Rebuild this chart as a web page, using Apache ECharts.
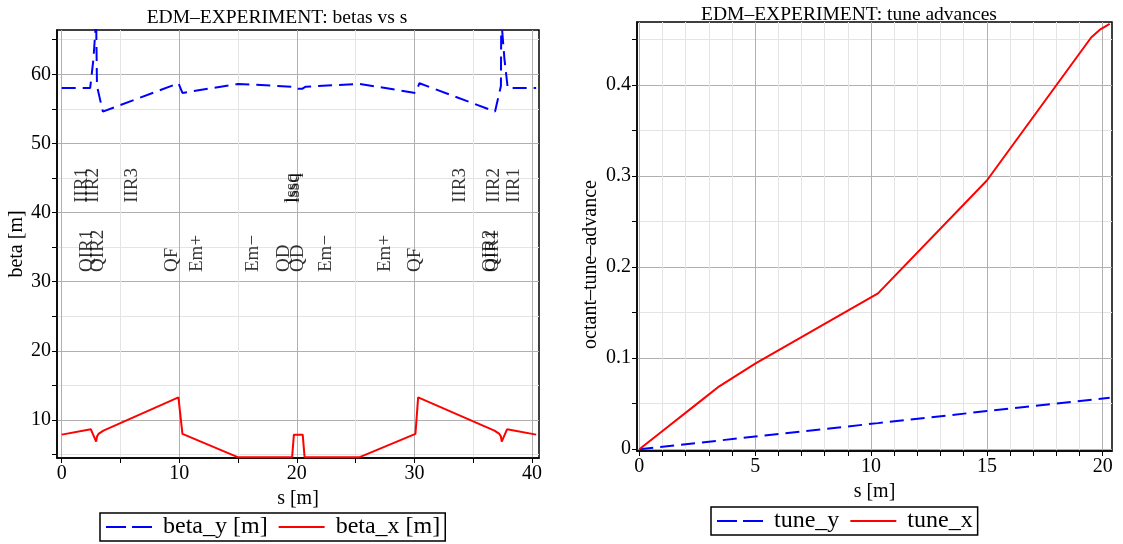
<!DOCTYPE html>
<html><head><meta charset="utf-8">
<script src="https://cdn.jsdelivr.net/npm/echarts@6/dist/echarts.min.js"></script>
<style>html,body{margin:0;padding:0;background:#fff}#c{width:1123px;height:544px}</style>
</head><body><div id="c"></div>
<script>
// ---- data: left panel (betas vs s) ----
const betaYS = [0, 2.42, 2.7, 2.93, 2.97, 3.0, 3.5, 9.93, 10.27, 15.0, 19.6, 19.9, 20.45, 20.75, 25.36, 30.09, 30.43, 36.86, 37.36, 37.39, 37.43, 37.66, 37.94, 40.36];
const betaYV = [58.0, 58.0, 62.2, 68, 68, 58.3, 54.6, 58.7, 57.3, 58.6, 58.2, 57.9, 57.9, 58.2, 58.6, 57.3, 58.7, 54.6, 58.3, 68, 68, 62.2, 58.0, 58.0];
const betaXS = [0, 2.48, 2.93, 3.0, 3.13, 3.55, 9.93, 10.27, 14.97, 19.6, 19.75, 20.5, 20.66, 25.35, 30.09, 30.32, 36.81, 37.23, 37.36, 37.43, 37.88, 40.36];
const betaXV = [7.88, 8.65, 6.88, 7.6, 7.98, 8.46, 13.27, 7.98, 4.62, 4.62, 7.88, 7.88, 4.62, 4.62, 7.98, 13.27, 8.46, 7.98, 7.6, 6.88, 8.65, 7.88];
const elemTopNames = ['IIR1', 'IIR2', 'IIR3', 'lssq', 'lssq', 'IIR3', 'IIR2', 'IIR1'];
const elemTopS = [1.77, 2.70, 6.02, 19.55, 19.75, 33.92, 36.75, 38.45];
const elemBotNames = ['QIR1', 'QIR2', 'QF', 'Em+', 'Em\u2212', 'QD', 'QD', 'Em\u2212', 'Em+', 'QF', 'QIR2', 'QIR1'];
const elemBotS = [2.14, 3.13, 9.39, 11.51, 16.27, 18.9, 20.09, 22.45, 27.49, 30.04, 36.4, 36.7];
const leftXTicks = [0, 5, 10, 15, 20, 25, 30, 35, 40];
const leftXLabels = [0, 10, 20, 30, 40];
const leftYTicks = [5, 10, 15, 20, 25, 30, 35, 40, 45, 50, 55, 60, 65];
const leftYLabels = [10, 20, 30, 40, 50, 60];

// ---- data: right panel (tune advances) ----
const tuneXS = [0, 1.0, 2.5, 3.45, 5.0, 10.3, 15.0, 19.5, 19.9, 20.3];
const tuneXV = [0, 0.020, 0.050, 0.069, 0.094, 0.171, 0.295, 0.452, 0.461, 0.467];
const tuneYS = [0, 3.45, 5.0, 10.3, 15.0, 20.3];
const tuneYV = [0, 0.0095, 0.0139, 0.0286, 0.0418, 0.0565];
const rightXTicks = [0,1,2,3,4,5,6,7,8,9,10,11,12,13,14,15,16,17,18,19,20];
const rightXLabels = [0, 5, 10, 15, 20];
const rightYTicks = [0, 0.05, 0.1, 0.15, 0.2, 0.25, 0.3, 0.35, 0.4, 0.45];
const rightYLabels = [0, 0.1, 0.2, 0.3, 0.4];

const FONT = 'Liberation Serif';
const zip = (a, b) => a.map((v, i) => [v, b[i]]);
const MAJ = '#b0b0b0', MIN = '#e4e4e4';
const TOP_ROW = 41.4, BOT_ROW = 31.4;

function axisCommon(ticks, labels, colors, extra) {
  return Object.assign({
    type: 'value',
    axisLine: { show: true, onZero: false, lineStyle: { color: '#000', width: 1.5 } },
    axisTick: { show: true, inside: false, length: 5, customValues: ticks, lineStyle: { color: '#000', width: 1 } },
    axisLabel: { customValues: labels, color: '#000', fontSize: 20, fontFamily: FONT, margin: 6 },
    splitLine: { show: true, lineStyle: { color: colors, width: 1 } },
    nameTextStyle: { color: '#000', fontSize: 20, fontFamily: FONT },
    nameLocation: 'middle'
  }, extra);
}

const labelStyle = { show: true, position: 'inside', rotate: 90, align: 'left', verticalAlign: 'middle',
  formatter: p => p.value[2], fontFamily: FONT, fontSize: 19, color: '#000' };

const legendCommon = { borderColor: '#000', borderWidth: 1.5, padding: [2, 5], itemWidth: 46, itemHeight: 14, itemGap: 10,
  itemStyle: { opacity: 0 }, textStyle: { fontFamily: FONT, fontSize: 24, color: '#000', padding: [0, 0, 0, 6] } };
const dashedLegend = { type: [20, 6], width: 2 };

const chart = echarts.init(document.getElementById('c'));
chart.setOption({
  animation: false,
  backgroundColor: '#fff',
  title: [
    { text: 'EDM\u2013EXPERIMENT: betas vs s', left: 272, textAlign: 'center', top: 3,
      textStyle: { fontFamily: FONT, fontSize: 19.5, fontWeight: 'normal', color: '#000' } },
    { text: 'EDM\u2013EXPERIMENT: tune advances', left: 844, textAlign: 'center', top: 0,
      textStyle: { fontFamily: FONT, fontSize: 19.5, fontWeight: 'normal', color: '#000' } }
  ],
  grid: [
    { left: 57, right: 1123 - 539, top: 30, bottom: 544 - 458, show: true, borderColor: '#000', borderWidth: 1.5, containLabel: false },
    { left: 637, right: 1123 - 1112, top: 22, bottom: 544 - 451, show: true, borderColor: '#000', borderWidth: 1.5, containLabel: false }
  ],
  xAxis: [
    axisCommon(leftXTicks, leftXLabels, [MAJ, MIN], { gridIndex: 0, min: -0.4, max: 40.6, name: 's [m]', nameGap: 29 }),
    axisCommon(rightXTicks, rightXLabels, [MAJ, MIN, MIN, MIN, MIN], { gridIndex: 1, min: -0.1, max: 20.4, name: 's [m]', nameGap: 29 })
  ],
  yAxis: [
    axisCommon(leftYTicks, leftYLabels, [MIN, MAJ], { gridIndex: 0, min: 4.5, max: 66.4, name: 'beta [m]', nameGap: 29 }),
    axisCommon(rightYTicks, rightYLabels, [MAJ, MIN], { gridIndex: 1, min: -0.002, max: 0.469, name: 'octant\u2013tune\u2013advance', nameGap: 36,
      nameTextStyle: { color: '#000', fontSize: 20, fontFamily: FONT, padding: [0, 56, 0, 0] } })
  ],
  legend: [
    Object.assign({ data: [{ name: 'beta_y [m]', lineStyle: dashedLegend }, 'beta_x [m]'], left: 100, top: 513 }, legendCommon),
    Object.assign({ data: [{ name: 'tune_y', lineStyle: dashedLegend }, 'tune_x'], left: 711, top: 507 }, legendCommon)
  ],
  series: [
    { name: 'beta_y [m]', type: 'line', xAxisIndex: 0, yAxisIndex: 0, data: zip(betaYS, betaYV), showSymbol: false, symbol: 'none',
      color: '#0000ff', lineStyle: { color: '#0000ff', width: 2, type: [14, 7] }, clip: true, silent: true },
    { name: 'beta_x [m]', type: 'line', xAxisIndex: 0, yAxisIndex: 0, data: zip(betaXS, betaXV), showSymbol: false, symbol: 'none',
      color: '#ff0000', lineStyle: { color: '#ff0000', width: 2 }, clip: true, silent: true },
    { name: 'elemTop', type: 'scatter', xAxisIndex: 0, yAxisIndex: 0, symbolSize: 1, itemStyle: { color: 'rgba(0,0,0,0)' }, silent: true,
      data: elemTopS.map((s, i) => [s, TOP_ROW, elemTopNames[i]]), label: labelStyle },
    { name: 'elemBot', type: 'scatter', xAxisIndex: 0, yAxisIndex: 0, symbolSize: 1, itemStyle: { color: 'rgba(0,0,0,0)' }, silent: true,
      data: elemBotS.map((s, i) => [s, BOT_ROW, elemBotNames[i]]), label: labelStyle },
    { name: 'tune_y', type: 'line', xAxisIndex: 1, yAxisIndex: 1, data: zip(tuneYS, tuneYV), showSymbol: false, symbol: 'none',
      color: '#0000ff', lineStyle: { color: '#0000ff', width: 2, type: [14, 7] }, silent: true },
    { name: 'tune_x', type: 'line', xAxisIndex: 1, yAxisIndex: 1, data: zip(tuneXS, tuneXV), showSymbol: false, symbol: 'none',
      color: '#ff0000', lineStyle: { color: '#ff0000', width: 2 }, silent: true }
  ]
});
</script></body></html>
